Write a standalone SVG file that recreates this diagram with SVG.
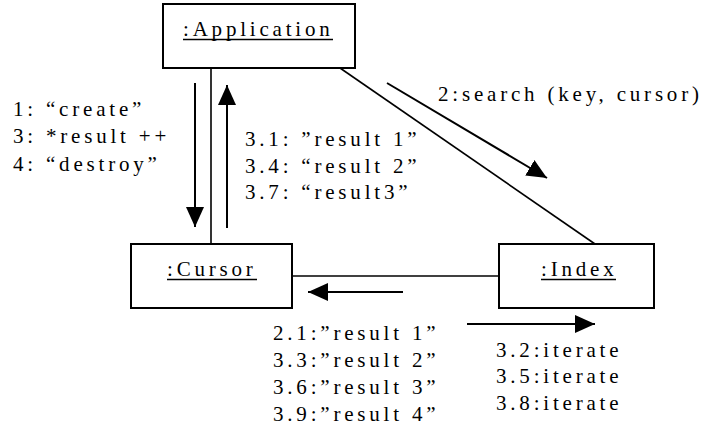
<svg xmlns="http://www.w3.org/2000/svg" width="707" height="431" viewBox="0 0 707 431">
  <style>
    .box { fill: #fff; stroke: #000; stroke-width: 2; }
    .link { stroke: #000; stroke-width: 1.6; fill: none; }
    .msg { stroke: #000; stroke-width: 2; fill: none; marker-end: url(#head); }
    .ul { stroke: #000; stroke-width: 1.6; }
    text { font-family: 'Liberation Serif', 'DejaVu Serif', serif; font-size: 21px; letter-spacing: 3.8px; fill: #000; }
  </style>
  <defs>
    <marker id="head" markerUnits="userSpaceOnUse" markerWidth="20" markerHeight="18" refX="20" refY="9" orient="auto">
      <path d="M0,0 L20,9 L0,18 Z" fill="#000"/>
    </marker>
  </defs>

  <rect width="707" height="431" fill="#fff"/>

  <!-- links and message arrows -->
  <g id="connectors">
    <line class="link" x1="211" y1="68" x2="211" y2="244"/>
    <line class="link" x1="340" y1="68" x2="595" y2="244"/>
    <line class="link" x1="292" y1="276" x2="499" y2="276"/>

    <line class="msg" x1="195" y1="83" x2="195" y2="227"/>
    <line class="msg" x1="227" y1="228" x2="227" y2="85"/>
    <line class="msg" x1="387" y1="83" x2="547" y2="178"/>
    <line class="msg" x1="403" y1="292" x2="308" y2="292"/>
    <line class="msg" x1="467" y1="324" x2="595" y2="324"/>
  </g>

  <!-- objects -->
  <g id="application">
    <rect class="box" x="163" y="4" width="192" height="64"/>
    <text x="183" y="36">:Application</text>
    <line class="ul" x1="183" y1="39.5" x2="333" y2="39.5"/>
  </g>
  <g id="cursor">
    <rect class="box" x="131" y="244" width="161" height="64"/>
    <text x="167" y="276">:Cursor</text>
    <line class="ul" x1="167" y1="279.5" x2="257" y2="279.5"/>
  </g>
  <g id="index">
    <rect class="box" x="499" y="244" width="155" height="64"/>
    <text x="541" y="276">:Index</text>
    <line class="ul" x1="541" y1="279.5" x2="616" y2="279.5"/>
  </g>

  <!-- message labels -->
  <g id="labels">
    <text x="13" y="115.5">1: “create”</text>
    <text x="13" y="143">3: *result ++</text>
    <text x="13" y="170.5">4: “destroy”</text>

    <text x="245" y="146">3.1: ”result 1”</text>
    <text x="245" y="172.5">3.4: “result 2”</text>
    <text x="245" y="199">3.7: “result3”</text>

    <text x="438" y="101">2:search (key, cursor)</text>

    <text x="273" y="340">2.1:”result 1”</text>
    <text x="273" y="367">3.3:”result 2”</text>
    <text x="273" y="394">3.6:”result 3”</text>
    <text x="273" y="421">3.9:”result 4”</text>

    <text x="496" y="356.5">3.2:iterate</text>
    <text x="496" y="383">3.5:iterate</text>
    <text x="496" y="410">3.8:iterate</text>
  </g>
</svg>
